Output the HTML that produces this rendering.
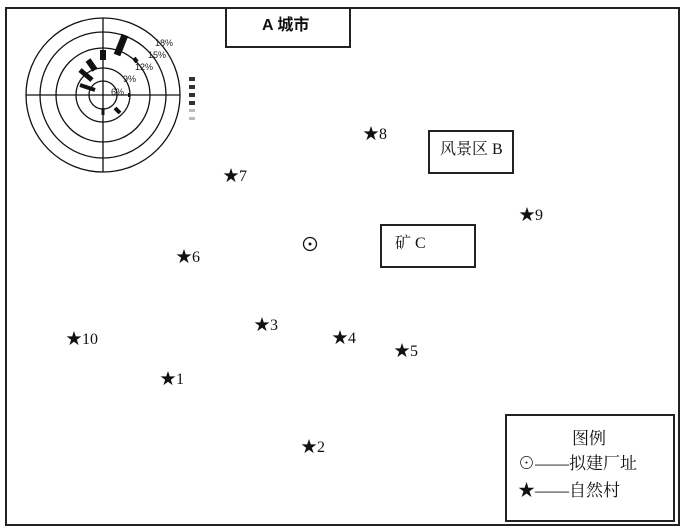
<!DOCTYPE html>
<html><head><meta charset="utf-8"><style>
body{margin:0;background:#fff;width:685px;height:530px;overflow:hidden;font-family:"Liberation Serif","Noto Serif CJK SC",serif;}
.b{position:absolute;border:2px solid #222;background:#fff;}
.t{position:absolute;font-size:16px;color:#111;white-space:nowrap;line-height:1;}
</style></head><body>
<div class="b" style="left:5px;top:7px;width:671px;height:515px;border-width:2px"></div>
<svg style="position:absolute;left:0;top:0" width="685" height="530">
<g fill="none" stroke="#111" stroke-width="1.3">
<circle cx="103" cy="95" r="77"/><circle cx="103" cy="95" r="63"/><circle cx="103" cy="95" r="47"/><circle cx="103" cy="95" r="27"/><circle cx="103" cy="95" r="14"/>
<line x1="26" y1="95" x2="180" y2="95"/><line x1="103" y1="18" x2="103" y2="172"/>
</g>
<g stroke="#111" stroke-linecap="butt">
<line x1="117" y1="55" x2="125" y2="35" stroke-width="7"/>
<line x1="103" y1="60" x2="103" y2="50" stroke-width="6"/>
<line x1="95" y1="70" x2="88" y2="60" stroke-width="6"/>
<line x1="92" y1="80" x2="80" y2="70" stroke-width="5"/>
<line x1="95" y1="90" x2="80" y2="85" stroke-width="4"/>
<line x1="115" y1="108" x2="120" y2="113" stroke-width="4"/>
<line x1="103" y1="108" x2="103" y2="115" stroke-width="3"/>
<line x1="128" y1="95" x2="130" y2="95" stroke-width="4"/>
<line x1="134" y1="58" x2="137" y2="62" stroke-width="4"/>
</g>
<g fill="#222" font-size="9" font-family="Liberation Sans,sans-serif">
<text x="155" y="46">18%</text><text x="148" y="58">15%</text><text x="135" y="70">12%</text><text x="123" y="82">9%</text><text x="111" y="95">6%</text>
</g>
<g fill="#333"><rect x="189" y="77" width="6" height="4"/><rect x="189" y="85" width="6" height="4"/><rect x="189" y="93" width="6" height="4"/><rect x="189" y="101" width="6" height="4"/><rect x="189" y="109" width="6" height="3" fill="#bbb"/><rect x="189" y="117" width="6" height="3" fill="#bbb"/></g>
<circle cx="310" cy="244" r="6.5" fill="none" stroke="#111" stroke-width="1.3"/><circle cx="310" cy="244" r="1.5" fill="#111"/>
</svg>
<div class="b" style="left:225px;top:7px;width:122px;height:37px"></div>
<div class="t" style="left:262px;top:18px;font-family:'Liberation Sans','Noto Sans CJK SC',sans-serif;font-weight:bold">A 城市</div>
<div class="b" style="left:428px;top:130px;width:82px;height:40px"></div>
<div class="t" style="left:440px;top:142px">风景区 B</div>
<div class="b" style="left:380px;top:224px;width:92px;height:40px"></div>
<div class="t" style="left:395px;top:236px">矿 C</div>
<div class="b" style="left:505px;top:414px;width:166px;height:104px"></div>
<div class="t" style="left:572px;top:430px;font-size:17px">图例</div>
<div class="t" style="left:518px;top:455px;font-size:17px">⊙——拟建厂址</div>
<div class="t" style="left:518px;top:482px;font-size:17px">★——自然村</div>
<div class="t" style="left:363px;top:127px">★8</div>
<div class="t" style="left:223px;top:169px">★7</div>
<div class="t" style="left:519px;top:208px">★9</div>
<div class="t" style="left:176px;top:250px">★6</div>
<div class="t" style="left:254px;top:318px">★3</div>
<div class="t" style="left:332px;top:331px">★4</div>
<div class="t" style="left:394px;top:344px">★5</div>
<div class="t" style="left:66px;top:332px">★10</div>
<div class="t" style="left:160px;top:372px">★1</div>
<div class="t" style="left:301px;top:440px">★2</div>
</body></html>
